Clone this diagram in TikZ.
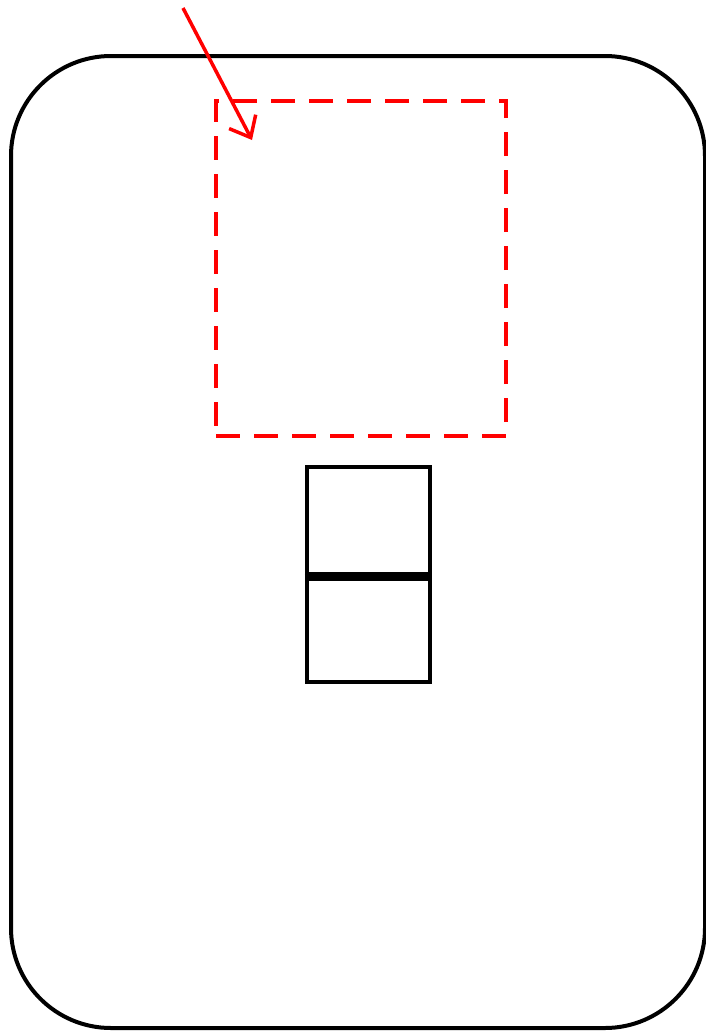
\documentclass[tikz,border=0pt]{standalone}
\usetikzlibrary{arrows.meta}
\begin{document}
\begin{tikzpicture}[x=1pt,y=-1pt,
  frame/.style={draw=black,line width=4pt,rounded corners=100pt,inner sep=0pt},
  zone/.style={draw=red,line width=4pt,dash pattern=on 24pt off 14pt,inner sep=0pt},
  cell/.style={draw=black,line width=4.5pt,inner sep=0pt,minimum width=123pt,minimum height=108pt},
  pointer/.style={draw=red,line width=3.5pt,-{Straight Barb[length=18pt,width=30pt,line width=3.5pt]}}]
\useasboundingbox (0,0) rectangle (705,1034);
\node[frame,minimum width=694pt,minimum height=972pt] (outer) at (358,542) {};
\node[zone,minimum width=290pt,minimum height=335pt] (target) at (361,268.5) {};
\node[cell] (upper) at (368.5,521) {};
\node[cell] (lower) at (368.5,628) {};
\draw[black,line width=7pt] (upper.south west) -- (upper.south east);
\coordinate (start) at (183,8);
\coordinate (tip) at (252,140);
\draw[pointer] (start) -- (tip);
\end{tikzpicture}
\end{document}
